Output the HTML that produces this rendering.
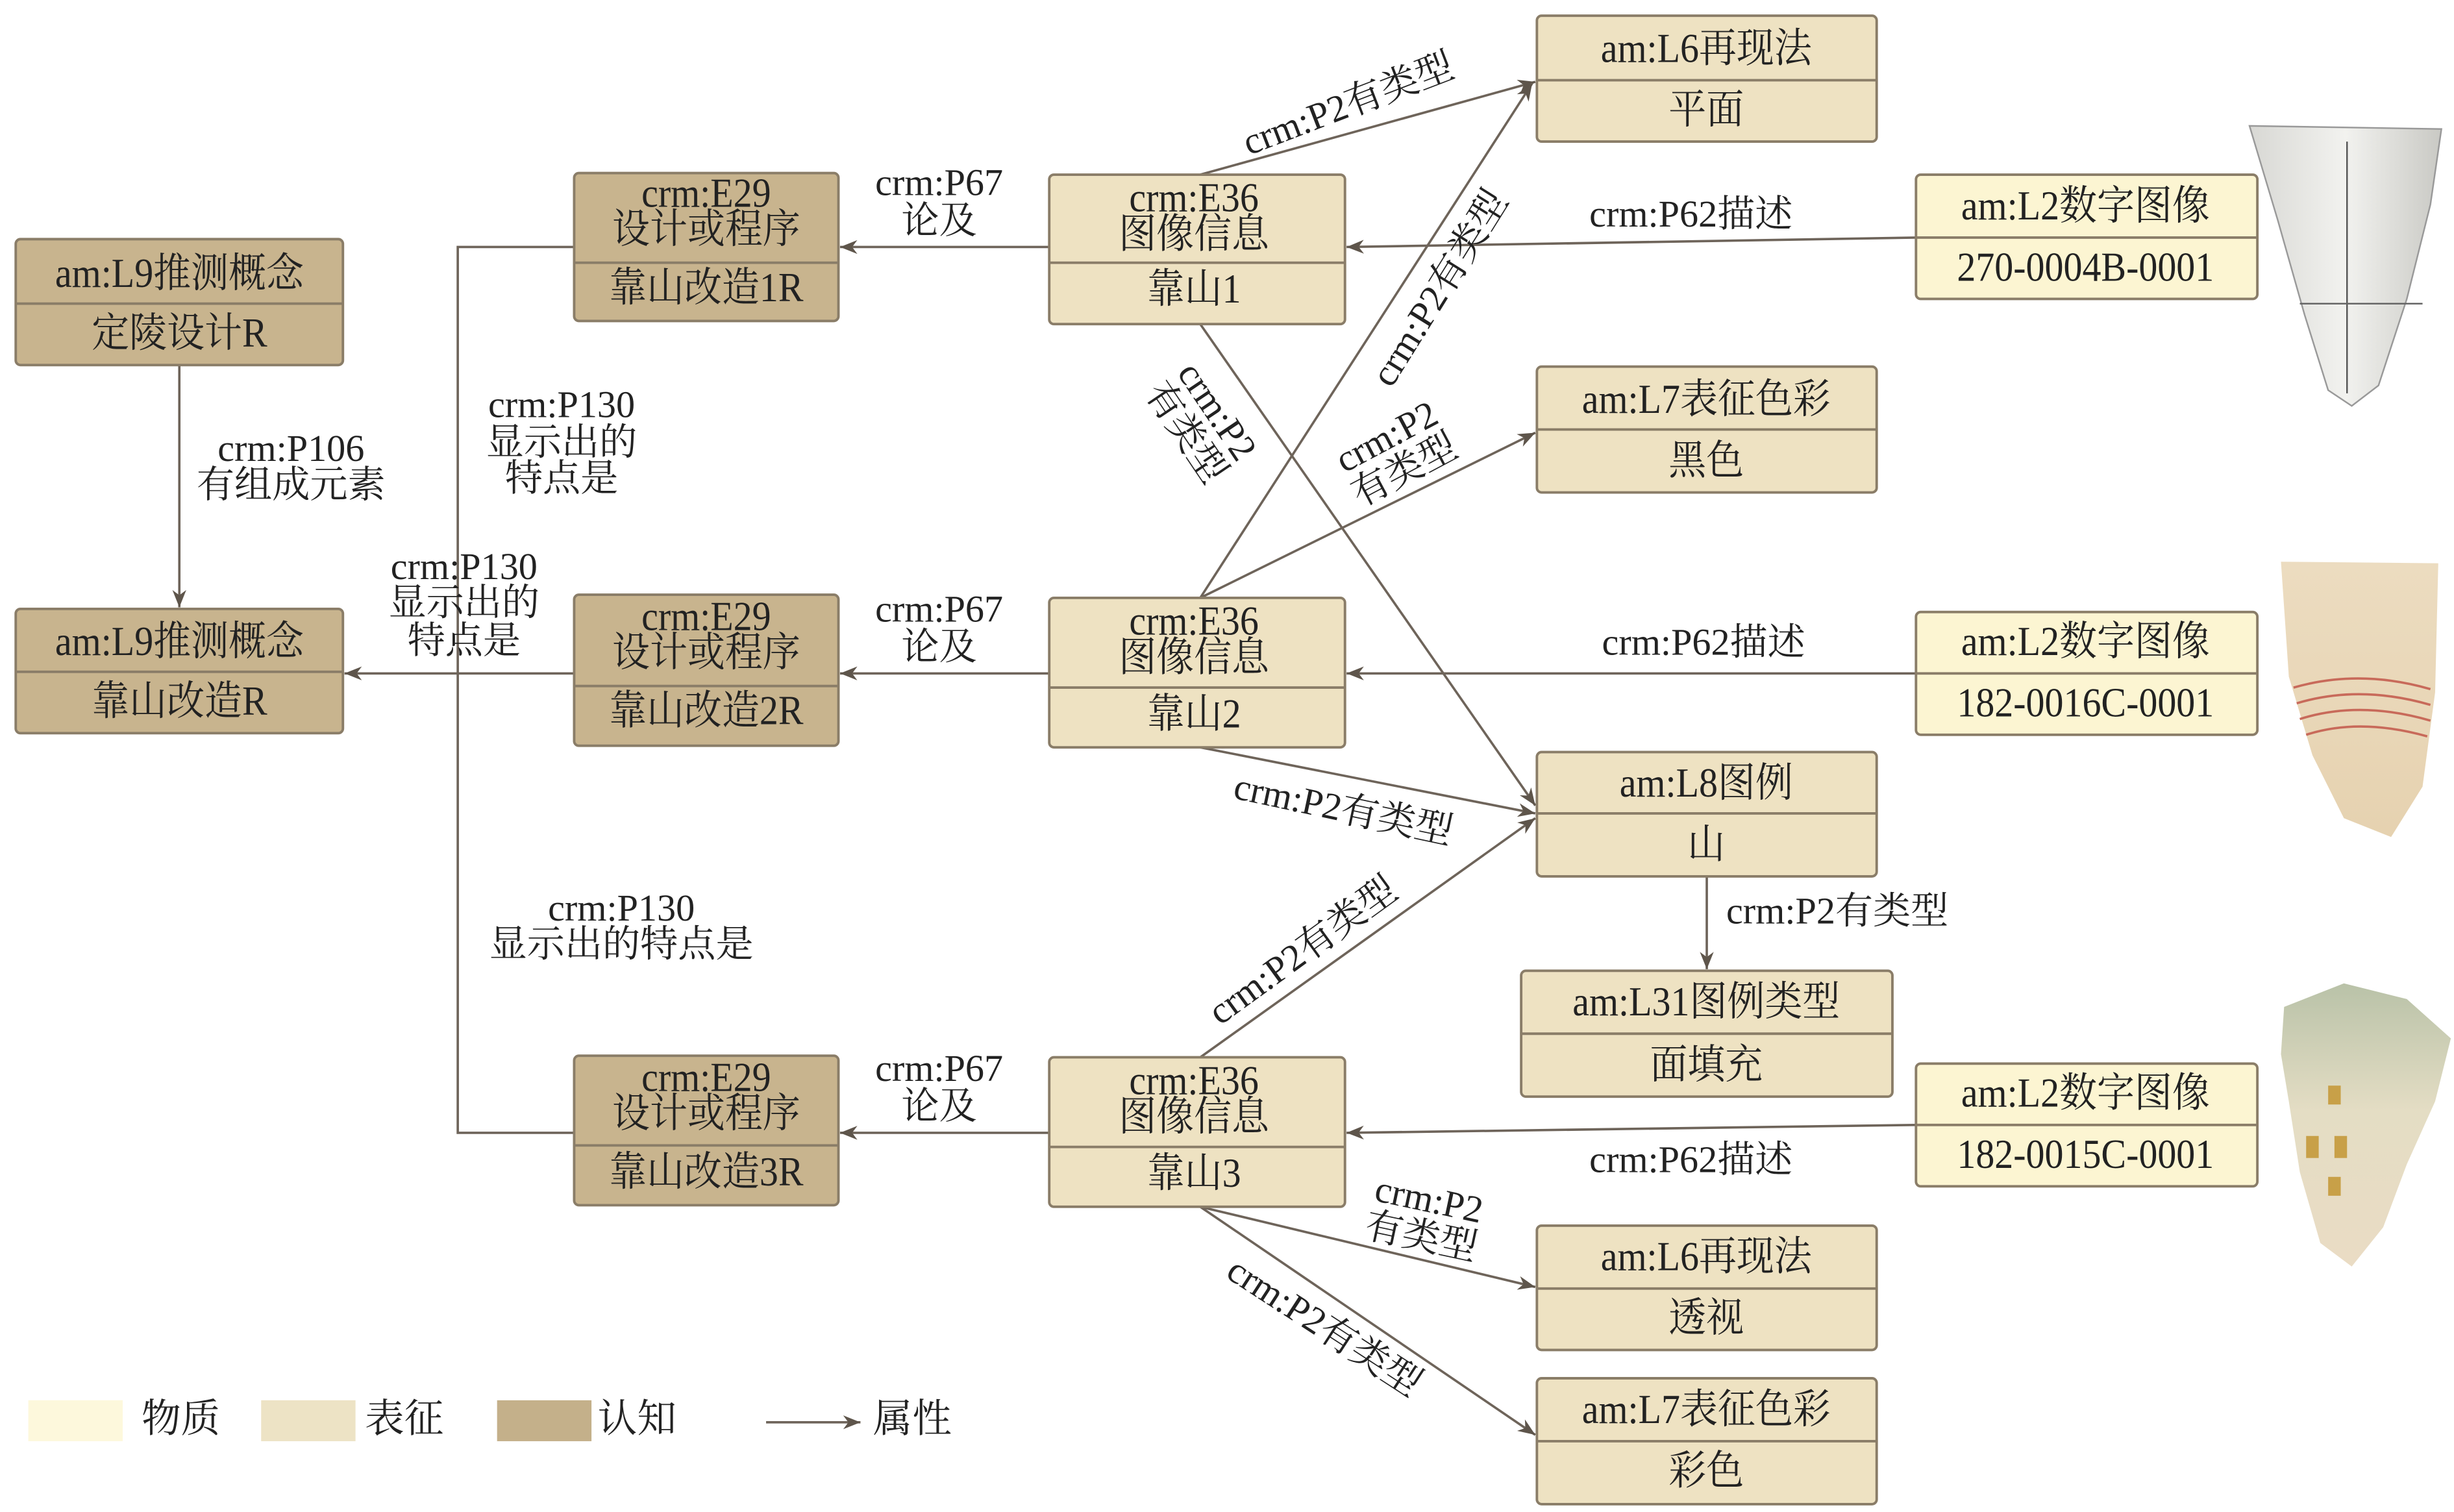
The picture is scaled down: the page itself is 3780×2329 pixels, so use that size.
<!DOCTYPE html>
<html><head><meta charset="utf-8"><style>
html,body{margin:0;padding:0;background:#fff;}
svg{display:block;}
text{font-family:"Liberation Serif","Noto Serif CJK SC",serif;fill:#222;}
</style></head><body>
<svg width="3780" height="2329" viewBox="0 0 1560 961" preserveAspectRatio="none" xmlns="http://www.w3.org/2000/svg">
<defs>
<marker id="ar" viewBox="0 0 10 10" refX="10" refY="5" markerWidth="11" markerHeight="11" orient="auto-start-reverse" markerUnits="userSpaceOnUse">
<path d="M0,1 L10,5 L0,9 L3,5 z" fill="#5e554b"/></marker>
<linearGradient id="g1" x1="0" y1="0" x2="1" y2="0"><stop offset="0" stop-color="#d8d8d4"/><stop offset="0.5" stop-color="#f2f2ef"/><stop offset="1" stop-color="#c9c9c4"/></linearGradient>
<linearGradient id="g2" x1="0" y1="0" x2="0" y2="1"><stop offset="0" stop-color="#ecdcc0"/><stop offset="1" stop-color="#e6d2b0"/></linearGradient>
<linearGradient id="g3" x1="0" y1="0" x2="0" y2="1"><stop offset="0" stop-color="#b9c2a8"/><stop offset="0.45" stop-color="#e4ddc4"/><stop offset="1" stop-color="#eadcc4"/></linearGradient>
</defs>
<g stroke="#6e645a" stroke-width="1.5" fill="none">
<line x1="114" y1="232" x2="114" y2="386" marker-end="url(#ar)"/>
<polyline points="365,157 291,157 291,720 365,720"/>
<line x1="365" y1="428" x2="219" y2="428" marker-end="url(#ar)"/>
<line x1="667" y1="157" x2="534" y2="157" marker-end="url(#ar)"/>
<line x1="667" y1="428" x2="534" y2="428" marker-end="url(#ar)"/>
<line x1="667" y1="720" x2="534" y2="720" marker-end="url(#ar)"/>
<line x1="1218" y1="151" x2="856" y2="157" marker-end="url(#ar)"/>
<line x1="1218" y1="428" x2="856" y2="428" marker-end="url(#ar)"/>
<line x1="1218" y1="715" x2="856" y2="720" marker-end="url(#ar)"/>
<line x1="763" y1="111" x2="976" y2="52" marker-end="url(#ar)"/>
<line x1="763" y1="380" x2="974" y2="53" marker-end="url(#ar)"/>
<line x1="763" y1="380" x2="976" y2="275" marker-end="url(#ar)"/>
<line x1="763" y1="206" x2="976" y2="512" marker-end="url(#ar)"/>
<line x1="763" y1="475" x2="976" y2="517" marker-end="url(#ar)"/>
<line x1="763" y1="672" x2="976" y2="520" marker-end="url(#ar)"/>
<line x1="1085" y1="557" x2="1085" y2="616" marker-end="url(#ar)"/>
<line x1="763" y1="767" x2="976" y2="818" marker-end="url(#ar)"/>
<line x1="763" y1="767" x2="976" y2="912" marker-end="url(#ar)"/>
<line x1="487" y1="904" x2="547" y2="904" marker-end="url(#ar)"/>
</g>
<g stroke="#8a7d68" stroke-width="1.6">
<rect x="10" y="152" width="208" height="80" rx="3" fill="#c8b48e"/><line x1="10" y1="193" x2="218" y2="193"/>
<rect x="10" y="387" width="208" height="79" rx="3" fill="#c8b48e"/><line x1="10" y1="427" x2="218" y2="427"/>
<rect x="365" y="110" width="168" height="94" rx="3" fill="#c8b48e"/><line x1="365" y1="167" x2="533" y2="167"/>
<rect x="365" y="378" width="168" height="96" rx="3" fill="#c8b48e"/><line x1="365" y1="436" x2="533" y2="436"/>
<rect x="365" y="671" width="168" height="95" rx="3" fill="#c8b48e"/><line x1="365" y1="728" x2="533" y2="728"/>
<rect x="667" y="111" width="188" height="95" rx="3" fill="#eee2c2"/><line x1="667" y1="167" x2="855" y2="167"/>
<rect x="667" y="380" width="188" height="95" rx="3" fill="#eee2c2"/><line x1="667" y1="437" x2="855" y2="437"/>
<rect x="667" y="672" width="188" height="95" rx="3" fill="#eee2c2"/><line x1="667" y1="729" x2="855" y2="729"/>
<rect x="977" y="10" width="216" height="80" rx="3" fill="#eee2c2"/><line x1="977" y1="51" x2="1193" y2="51"/>
<rect x="977" y="233" width="216" height="80" rx="3" fill="#eee2c2"/><line x1="977" y1="273" x2="1193" y2="273"/>
<rect x="977" y="478" width="216" height="79" rx="3" fill="#eee2c2"/><line x1="977" y1="517" x2="1193" y2="517"/>
<rect x="967" y="617" width="236" height="80" rx="3" fill="#eee2c2"/><line x1="967" y1="657" x2="1203" y2="657"/>
<rect x="977" y="779" width="216" height="79" rx="3" fill="#eee2c2"/><line x1="977" y1="819" x2="1193" y2="819"/>
<rect x="977" y="876" width="216" height="80" rx="3" fill="#eee2c2"/><line x1="977" y1="916" x2="1193" y2="916"/>
<rect x="1218" y="111" width="217" height="79" rx="3" fill="#fcf5d2"/><line x1="1218" y1="151" x2="1435" y2="151"/>
<rect x="1218" y="389" width="217" height="78" rx="3" fill="#fcf5d2"/><line x1="1218" y1="428" x2="1435" y2="428"/>
<rect x="1218" y="676" width="217" height="78" rx="3" fill="#fcf5d2"/><line x1="1218" y1="715" x2="1435" y2="715"/>
</g>
<path d="M1430,80 L1552,82 L1545,130 L1530,190 L1512,245 L1495,258 L1480,248 L1465,200 L1448,140 Z" fill="url(#g1)" stroke="#999" stroke-width="1"/>
<line x1="1492" y1="90" x2="1492" y2="250" stroke="#555" stroke-width="1"/>
<line x1="1462" y1="193" x2="1540" y2="193" stroke="#666" stroke-width="1"/>
<path d="M1450,357 L1550,358 L1548,440 L1540,500 L1520,532 L1490,520 L1470,480 L1455,430 Z" fill="url(#g2)"/>
<g stroke="#c86a5a" stroke-width="1.5" fill="none"><path d="M1458,437 Q1500,425 1545,438"/><path d="M1460,447 Q1500,435 1545,448"/><path d="M1462,457 Q1500,445 1545,458"/><path d="M1466,467 Q1500,456 1543,468"/></g>
<path d="M1452,640 L1490,625 L1530,635 L1558,660 L1548,700 L1530,740 L1515,780 L1495,805 L1475,790 L1462,745 L1455,700 L1450,670 Z" fill="url(#g3)"/>
<g fill="#c8a048"><rect x="1480" y="690" width="8" height="12"/><rect x="1466" y="722" width="8" height="14"/><rect x="1484" y="722" width="8" height="14"/><rect x="1480" y="748" width="8" height="12"/></g>
<g font-size="26" text-anchor="middle" dominant-baseline="central">
<g transform="scale(0.92,1)">
<text x="124" y="174">am:L9推测概念</text><text x="124" y="212">定陵设计R</text>
<text x="124" y="408">am:L9推测概念</text><text x="124" y="446">靠山改造R</text>
<text x="488" y="123">crm:E29</text><text x="488" y="146">设计或程序</text><text x="488" y="183">靠山改造1R</text>
<text x="488" y="392">crm:E29</text><text x="488" y="415">设计或程序</text><text x="488" y="452">靠山改造2R</text>
<text x="488" y="685">crm:E29</text><text x="488" y="708">设计或程序</text><text x="488" y="745">靠山改造3R</text>
<text x="825" y="126">crm:E36</text><text x="825" y="149">图像信息</text><text x="825" y="184">靠山1</text>
<text x="825" y="395">crm:E36</text><text x="825" y="418">图像信息</text><text x="825" y="454">靠山2</text>
<text x="825" y="687">crm:E36</text><text x="825" y="710">图像信息</text><text x="825" y="746">靠山3</text>
<text x="1179" y="31">am:L6再现法</text><text x="1179" y="70">平面</text>
<text x="1179" y="254">am:L7表征色彩</text><text x="1179" y="293">黑色</text>
<text x="1179" y="498">am:L8图例</text><text x="1179" y="537">山</text>
<text x="1179" y="637">am:L31图例类型</text><text x="1179" y="677">面填充</text>
<text x="1179" y="799">am:L6再现法</text><text x="1179" y="838">透视</text>
<text x="1179" y="896">am:L7表征色彩</text><text x="1179" y="935">彩色</text>
<text x="1441" y="131">am:L2数字图像</text><text x="1441" y="170">270-0004B-0001</text>
<text x="1441" y="408">am:L2数字图像</text><text x="1441" y="447">182-0016C-0001</text>
<text x="1441" y="695">am:L2数字图像</text><text x="1441" y="734">182-0015C-0001</text>
</g>
</g>
<g font-size="24" text-anchor="middle" dominant-baseline="central">
<text x="185" y="285">crm:P106</text><text x="185" y="308">有组成元素</text>
<text x="357" y="257">crm:P130</text><text x="357" y="281">显示出的</text><text x="357" y="304">特点是</text>
<text x="295" y="360">crm:P130</text><text x="295" y="383">显示出的</text><text x="295" y="407">特点是</text>
<text x="395" y="577">crm:P130</text><text x="395" y="600">显示出的特点是</text>
<text x="597" y="116">crm:P67</text><text x="597" y="140">论及</text>
<text x="597" y="387">crm:P67</text><text x="597" y="411">论及</text>
<text x="597" y="679">crm:P67</text><text x="597" y="703">论及</text>
<text x="1075" y="136">crm:P62描述</text>
<text x="1083" y="408">crm:P62描述</text>
<text x="1075" y="737">crm:P62描述</text>
<text x="1168" y="579">crm:P2有类型</text>
<text transform="translate(857,66) rotate(-21)">crm:P2有类型</text>
<text transform="translate(915,183) rotate(-58)">crm:P2有类型</text>
<g transform="translate(887,288) rotate(-28)"><text x="0" y="-12">crm:P2</text><text x="0" y="12">有类型</text></g>
<g transform="translate(764,268) rotate(56)"><text x="0" y="-12">crm:P2</text><text x="0" y="12">有类型</text></g>
<text transform="translate(854,514) rotate(12)">crm:P2有类型</text>
<text transform="translate(828,604) rotate(-36)">crm:P2有类型</text>
<g transform="translate(906,774) rotate(12)"><text x="0" y="-12">crm:P2</text><text x="0" y="12">有类型</text></g>
<text transform="translate(842,843) rotate(33)">crm:P2有类型</text>
</g>
<rect x="18" y="890" width="60" height="26" fill="#fdf8dc"/>
<rect x="166" y="890" width="60" height="26" fill="#ede3c5"/>
<rect x="316" y="890" width="60" height="26" fill="#c4b08a"/>
<g font-size="25" dominant-baseline="central">
<text x="90" y="902">物质</text><text x="232" y="902">表征</text><text x="380" y="902">认知</text><text x="555" y="902">属性</text>
</g>
</svg>
</body></html>
